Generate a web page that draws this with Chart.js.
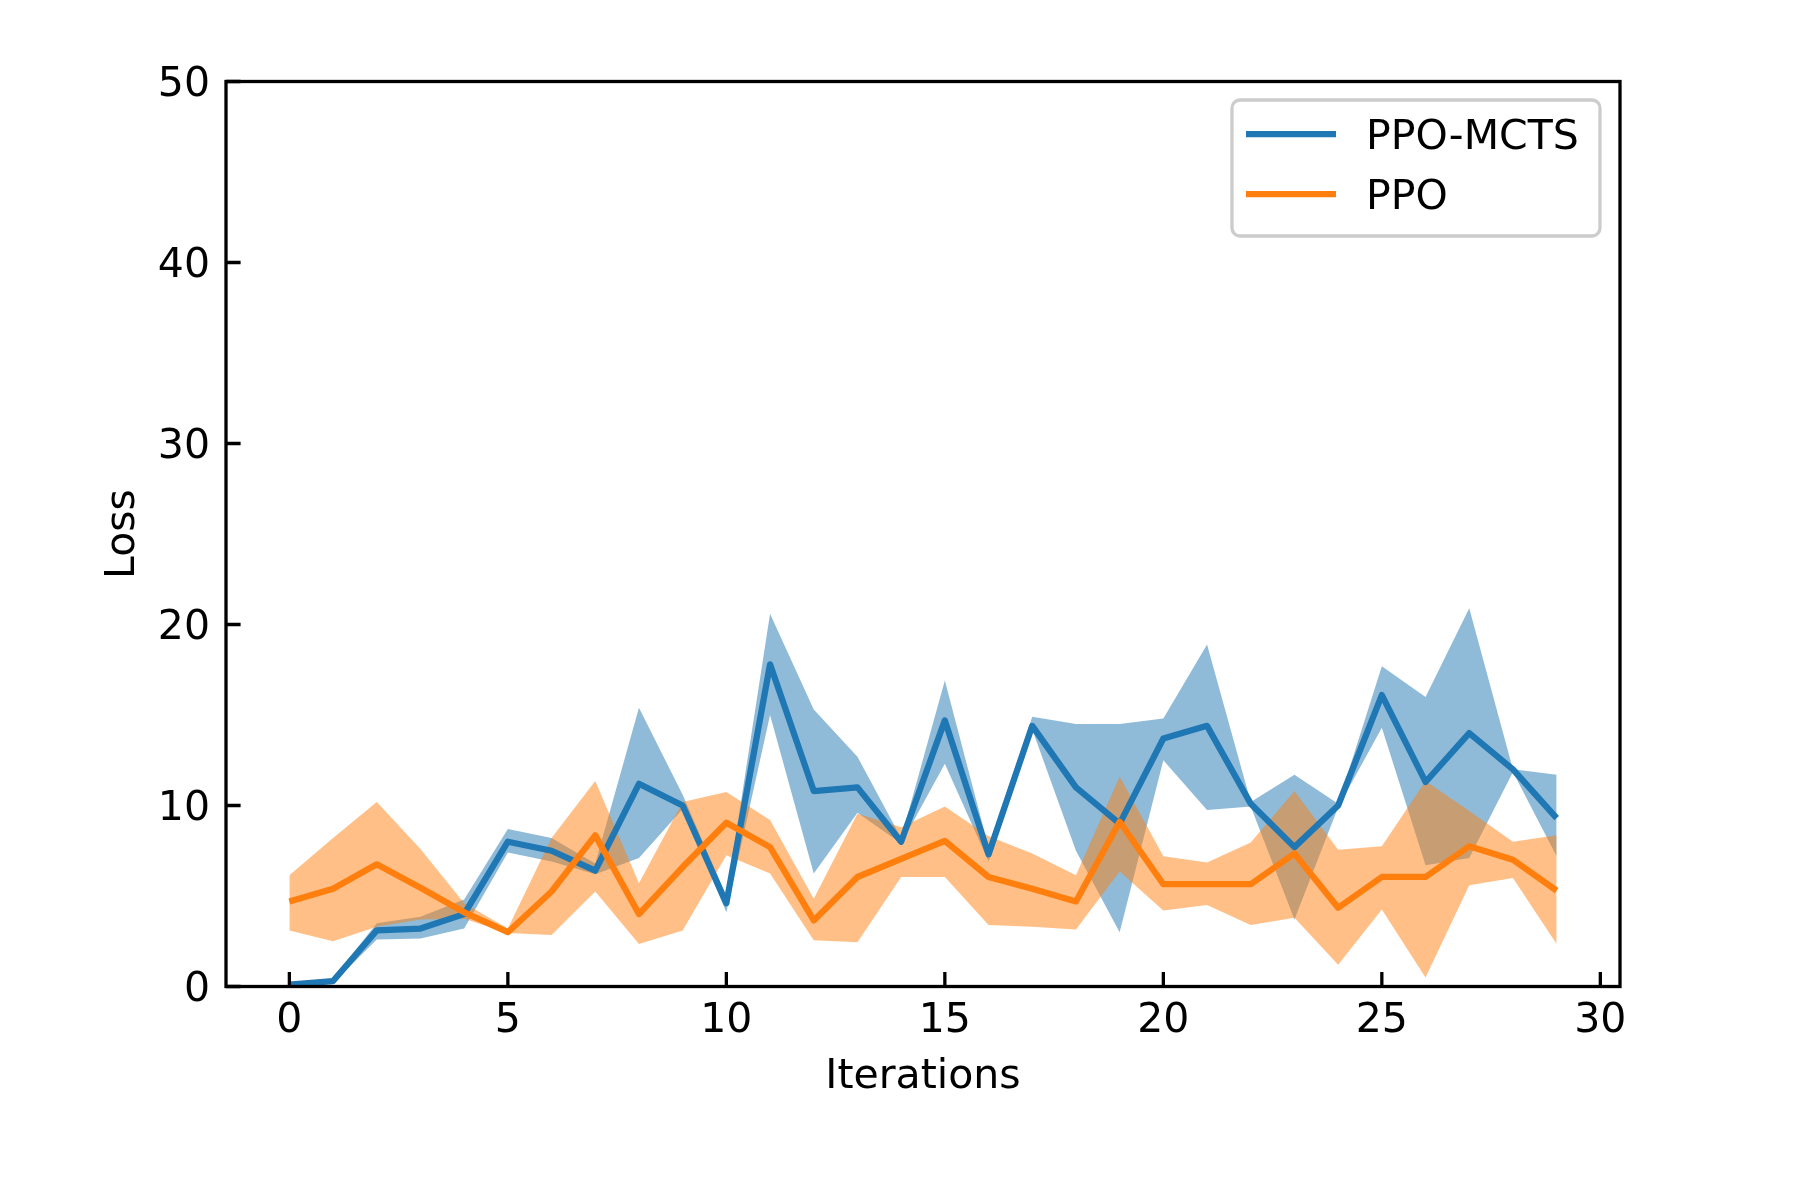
<!DOCTYPE html>
<html>
<head>
<meta charset="utf-8">
<style>
  html, body { margin: 0; padding: 0; background: #fff; }
  #wrap { width: 1800px; height: 1200px; }
</style>
<script src="https://cdn.jsdelivr.net/npm/chart.js@4.4.1/dist/chart.umd.min.js"></script>
</head>
<body>
<div id="wrap"><canvas id="loss-chart" width="1800" height="1200"></canvas></div>
<script>
// iterations on the x axis
const iterations = [0, 1, 2, 3, 4, 5, 6, 7, 8, 9, 10, 11, 12, 13, 14, 15, 16, 17, 18, 19, 20, 21, 22, 23, 24, 25, 26, 27, 28, 29];

// PPO-MCTS: mean and band
const mctsMean  = [0.1, 0.3, 3.1, 3.2, 4.0, 8.0, 7.5, 6.4, 11.2, 10.0, 4.6, 17.8, 10.8, 11.0, 8.0, 14.7, 7.3, 14.4, 11.0, 9.0, 13.7, 14.4, 10.1, 7.7, 10.0, 16.1, 11.3, 14.0, 12.0, 9.3];
const mctsUpper = [0.2, 0.45, 3.5, 3.85, 4.8, 8.7, 8.2, 6.8, 15.4, 10.6, 5.0, 20.6, 15.3, 12.7, 8.2, 16.9, 7.7, 14.9, 14.5, 14.5, 14.8, 18.9, 10.2, 11.7, 10.1, 17.7, 16.0, 20.9, 12.0, 11.7];
const mctsLower = [0.0, 0.2, 2.6, 2.65, 3.2, 7.4, 6.9, 6.2, 7.1, 9.8, 4.1, 15.0, 6.25, 9.6, 7.9, 12.3, 6.9, 14.2, 7.5, 3.0, 12.5, 9.75, 9.95, 3.7, 9.9, 14.3, 6.7, 7.1, 11.85, 7.2];

// PPO: mean and band
const ppoMean  = [4.7, 5.4, 6.75, 5.45, 4.1, 3.0, 5.25, 8.35, 4.0, 6.6, 9.05, 7.7, 3.65, 6.05, 7.05, 8.05, 6.05, 5.4, 4.7, 9.1, 5.65, 5.65, 5.65, 7.35, 4.35, 6.05, 6.05, 7.75, 7.0, 5.3];
const ppoUpper = [6.15, 8.2, 10.2, 7.6, 4.6, 3.2, 8.2, 11.35, 5.7, 10.2, 10.75, 9.2, 4.85, 9.55, 8.8, 9.95, 8.3, 7.35, 6.15, 11.6, 7.2, 6.85, 7.95, 10.8, 7.55, 7.75, 11.35, 9.7, 8.0, 8.35];
const ppoLower = [3.1, 2.5, 3.3, 3.7, 3.75, 2.95, 2.85, 5.25, 2.35, 3.1, 7.25, 6.25, 2.55, 2.45, 6.05, 6.05, 3.4, 3.3, 3.15, 6.35, 4.2, 4.5, 3.4, 3.8, 1.2, 4.25, 0.5, 5.6, 6.0, 2.35];

// tick labels
const xTicks = [0, 5, 10, 15, 20, 25, 30];
const yTicks = [0, 10, 20, 30, 40, 50];

const BLUE = '#1f77b4';
const ORANGE = '#ff7f0e';
const FONT = "'DejaVu Sans', sans-serif";

function pts(values) {
    return iterations.map((it, i) => ({ x: it, y: values[i] }));
}

function band(values, color, fill, order) {
    return {
        data: pts(values),
        borderWidth: 0,
        pointRadius: 0,
        backgroundColor: color,
        fill: fill,
        order: order,
        band: true
    };
}

// spines, inward ticks and the legend box
const framePlugin = {
    id: 'frame',
    afterDraw(chart) {
        const { ctx, chartArea: a, scales } = chart;
        ctx.save();
        ctx.strokeStyle = '#000';
        ctx.lineWidth = 3.3;
        ctx.lineCap = 'butt';
        ctx.beginPath();
        xTicks.forEach(v => {
            const px = scales.x.getPixelForValue(v);
            ctx.moveTo(px, a.bottom);
            ctx.lineTo(px, a.bottom - 14.6);
        });
        yTicks.forEach(v => {
            const py = scales.y.getPixelForValue(v);
            ctx.moveTo(a.left, py);
            ctx.lineTo(a.left + 14.6, py);
        });
        ctx.stroke();
        ctx.strokeRect(a.left, a.top, a.right - a.left, a.bottom - a.top);

        // legend
        const bx = 1232, by = 100, bw = 368, bh = 136, r = 8;
        ctx.beginPath();
        ctx.roundRect(bx, by, bw, bh, r);
        ctx.fillStyle = 'rgba(255,255,255,0.8)';
        ctx.fill();
        ctx.strokeStyle = '#cccccc';
        ctx.lineWidth = 3.3;
        ctx.stroke();

        const items = chart.data.datasets.filter(d => !d.band);
        ctx.font = '41px ' + FONT;
        ctx.textBaseline = 'middle';
        ctx.textAlign = 'left';
        items.forEach((d, i) => {
            const y = 134 + i * 60;
            ctx.strokeStyle = d.borderColor;
            ctx.lineWidth = 6.25;
            ctx.beginPath();
            ctx.moveTo(1246, y);
            ctx.lineTo(1336, y);
            ctx.stroke();
            ctx.fillStyle = '#000';
            ctx.fillText(d.label, 1366, y + 4);
        });
        ctx.restore();
    }
};

const ctx = document.getElementById('loss-chart').getContext('2d');
const chart = new Chart(ctx, {
    type: 'line',
    data: {
        datasets: [
            {
                label: 'PPO-MCTS',
                data: pts(mctsMean),
                borderColor: BLUE,
                borderWidth: 6.25,
                pointRadius: 0,
                fill: false,
                order: 1
            },
            {
                label: 'PPO',
                data: pts(ppoMean),
                borderColor: ORANGE,
                borderWidth: 6.25,
                pointRadius: 0,
                fill: false,
                order: 0
            },
            band(mctsUpper, 'rgba(31,119,180,0.5)', '+1', 3),
            band(mctsLower, 'rgba(0,0,0,0)', false, 3),
            band(ppoUpper, 'rgba(255,127,14,0.5)', '+1', 2),
            band(ppoLower, 'rgba(0,0,0,0)', false, 2)
        ]
    },
    options: {
        responsive: false,
        animation: false,
        devicePixelRatio: 1,
        layout: { padding: { left: 0, right: 180, top: 81.5, bottom: 0 } },
        elements: { line: { tension: 0, borderJoinStyle: 'round', borderCapStyle: 'butt' } },
        plugins: {
            legend: { display: false },
            tooltip: { enabled: false },
            filler: { drawTime: 'beforeDatasetsDraw' }
        },
        scales: {
            x: {
                type: 'linear',
                min: -1.45,
                max: 30.45,
                grid: { display: false, drawTicks: false },
                border: { display: false },
                afterBuildTicks(scale) { scale.ticks = xTicks.map(v => ({ value: v })); },
                afterFit(scale) { scale.height = 213.5; },
                ticks: {
                    padding: 10,
                    color: '#000',
                    font: { family: FONT, size: 41 },
                    maxRotation: 0,
                    callback: v => String(v)
                },
                title: {
                    display: true,
                    text: 'Iterations',
                    color: '#000',
                    font: { family: FONT, size: 41 },
                    padding: { top: 0, bottom: 98 }
                }
            },
            y: {
                type: 'linear',
                min: 0,
                max: 50,
                grid: { display: false, drawTicks: false },
                border: { display: false },
                afterBuildTicks(scale) { scale.ticks = yTicks.map(v => ({ value: v })); },
                afterFit(scale) { scale.width = 226; },
                ticks: {
                    padding: 16,
                    labelOffset: 3.5,
                    color: '#000',
                    font: { family: FONT, size: 41 },
                    callback: v => String(v)
                },
                title: {
                    display: true,
                    text: 'Loss',
                    color: '#000',
                    font: { family: FONT, size: 41 },
                    padding: { top: 99, bottom: 0 }
                }
            }
        }
    },
    plugins: [framePlugin]
});
</script>
</body>
</html>
